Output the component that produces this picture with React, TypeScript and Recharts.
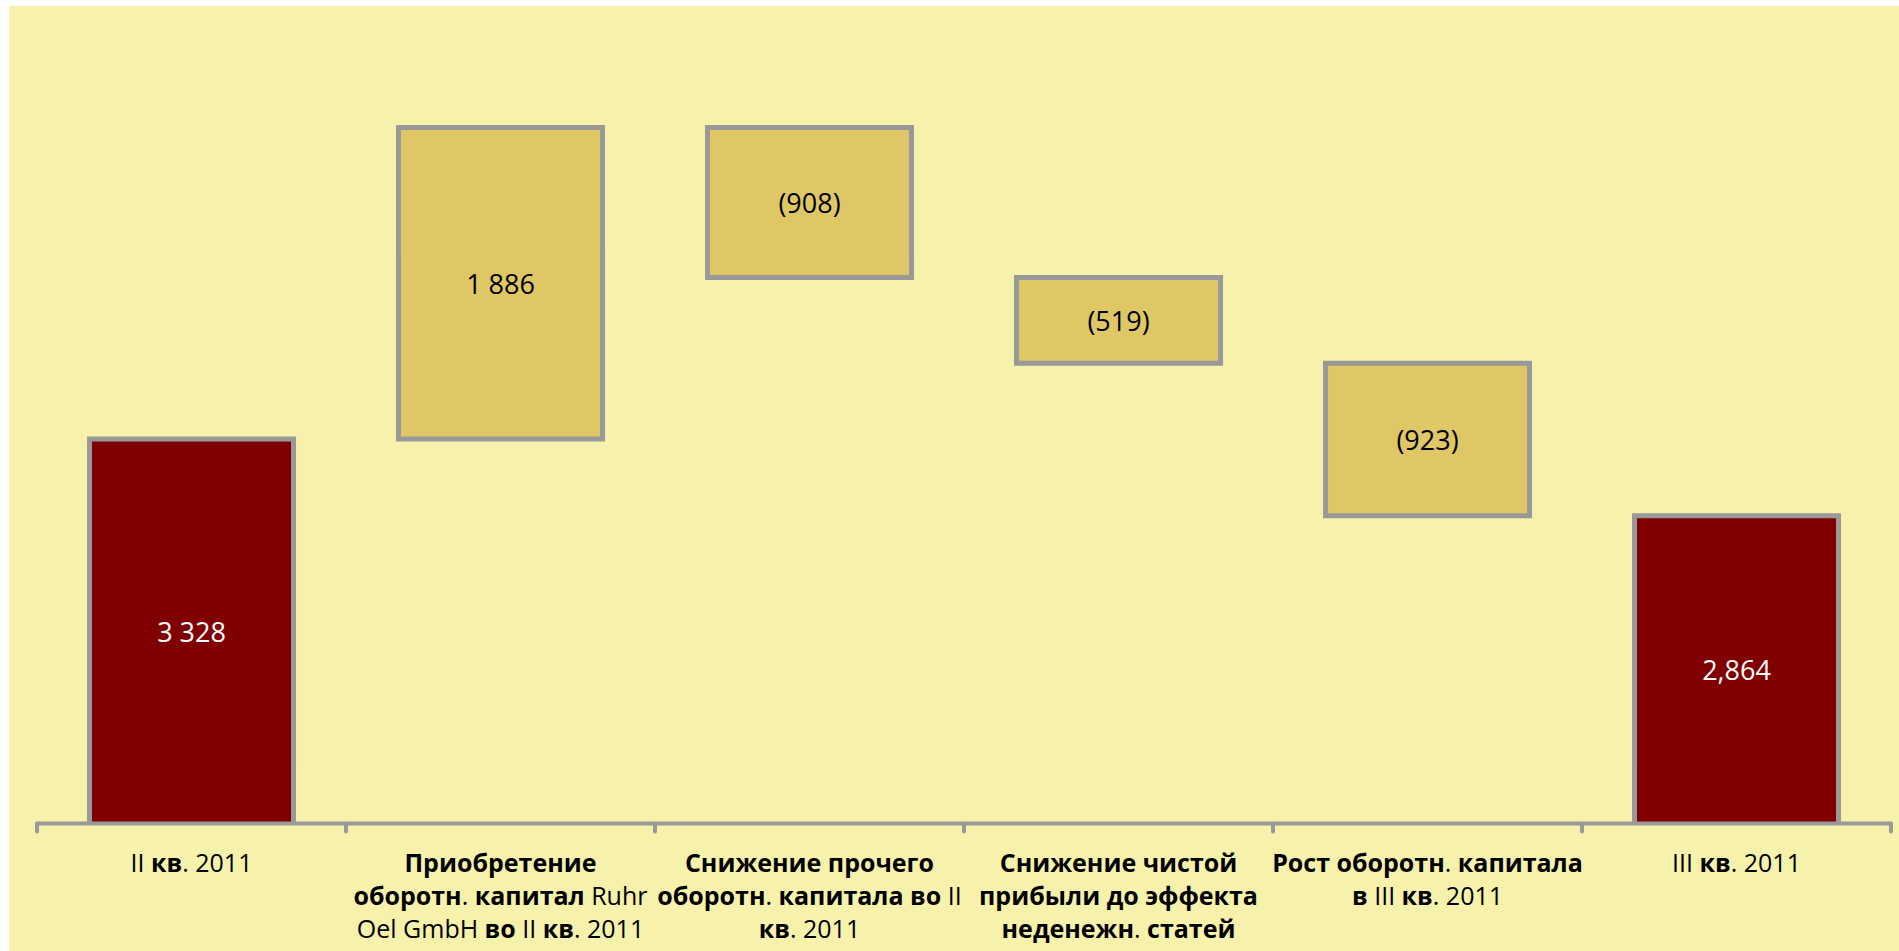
import React from 'react';
import { BarChart, Bar, XAxis, YAxis, Cell, LabelList } from 'recharts';

const CATEGORIES = [
  'II кв. 2011',
  'Приобретение\nоборотн. капитал Ruhr\nOel GmbH во II кв. 2011',
  'Снижение прочего\nоборотн. капитала во II\nкв. 2011',
  'Снижение чистой\nприбыли до эффекта\nнеденежн. статей',
  'Рост оборотн. капитала\nв III кв. 2011',
  'III кв. 2011',
];
const VALUES = [3328, 1886, -908, -519, -923, 2864];
const IS_TOTAL = [true, false, false, false, false, true];
const VALUE_LABELS = ['3 328', '1 886', '(908)', '(519)', '(923)', '2,864'];
const Y_DOMAIN = [1000, 5800];

const BG = '#F6F2AB';
const GOLD = '#DFC766';
const RED = '#800000';
const GREY = '#999999';
const FONT = '"Open Sans", "Noto Sans", sans-serif';

const W = 1890;
const H = 945;
const MARGIN = { top: 24.7, right: 8, left: 28, bottom: 0 };
const AXIS_H = 127.5;
const PLOT_BOTTOM = H - MARGIN.bottom - AXIS_H;
const BAND = (W - MARGIN.left - MARGIN.right) / CATEGORIES.length;

// waterfall: totals start from zero, deltas float on the running sum
let running = 0;
const data = CATEGORIES.map((name, i) => {
  let range: number[];
  if (IS_TOTAL[i]) {
    range = [0, VALUES[i]];
    running = VALUES[i];
  } else {
    const next = running + VALUES[i];
    range = [Math.min(running, next), Math.max(running, next)];
    running = next;
  }
  return { name, range, label: VALUE_LABELS[i], total: IS_TOTAL[i] };
});

function splitRuns(line: string) {
  // cyrillic words are bold, latin / digits / punctuation regular
  const runs: { text: string; bold: boolean }[] = [];
  const re = /[\u0400-\u04FF]+|[^\u0400-\u04FF]+/g;
  let m;
  while ((m = re.exec(line)) !== null) {
    runs.push({ text: m[0], bold: /[\u0400-\u04FF]/.test(m[0]) });
  }
  return runs;
}

function CategoryTick(props: any) {
  const { x, y, payload, index } = props;
  const lines = String(payload.value).split('\n');
  const edges = [x - BAND / 2];
  if (index === CATEGORIES.length - 1) edges.push(x + BAND / 2);
  return (
    <g>
      {edges.map((ex, k) => (
        <line key={k} x1={ex} y1={y} x2={ex} y2={y + 8} stroke={GREY} strokeWidth={4} strokeLinecap="round" />
      ))}
      <text textAnchor="middle" fontFamily={FONT} fontSize={25} fill="#000">
        {lines.map((line, i) => (
          <tspan key={i} x={x} y={y + 48.5 + i * 33}>
            {splitRuns(line).map((r, j) => (
              <tspan key={j} fontWeight={r.bold ? 700 : 400}>{r.text}</tspan>
            ))}
          </tspan>
        ))}
      </text>
    </g>
  );
}

function ValueLabel(props: any) {
  const vb = props.viewBox ?? props;
  const x = Number(vb.x ?? props.x);
  const y = Number(vb.y ?? props.y);
  const w = Number(vb.width ?? props.width);
  const h = Number(vb.height ?? props.height);
  const top = Math.min(y, y + h);
  const bottom = Math.min(Math.max(y, y + h), PLOT_BOTTOM);
  const idx = VALUE_LABELS.indexOf(String(props.value));
  const white = idx >= 0 && IS_TOTAL[idx];
  return (
    <text
      x={x + w / 2}
      y={(top + bottom) / 2}
      textAnchor="middle"
      dominantBaseline="central"
      fontFamily={FONT}
      fontSize={27}
      fill={white ? '#FFFFFF' : '#000000'}
    >
      {props.value}
    </text>
  );
}

export default function App() {
  return (
    <div style={{ position: 'absolute', left: 9, top: 6, width: W, height: H, background: BG }}>
      <BarChart width={W} height={H} data={data} margin={MARGIN} barCategoryGap="17%">
        <XAxis
          dataKey="name"
          height={AXIS_H}
          axisLine={{ stroke: GREY, strokeWidth: 4 }}
          tickLine={false}
          tickSize={0}
          tickMargin={0}
          interval={0}
          tick={<CategoryTick />}
        />
        <YAxis hide domain={Y_DOMAIN} allowDataOverflow />
        <Bar dataKey="range" stroke={GREY} strokeWidth={5} isAnimationActive={false}>
          {data.map((d, i) => (
            <Cell key={i} fill={d.total ? RED : GOLD} />
          ))}
          <LabelList dataKey="label" content={<ValueLabel />} />
        </Bar>
      </BarChart>
    </div>
  );
}
